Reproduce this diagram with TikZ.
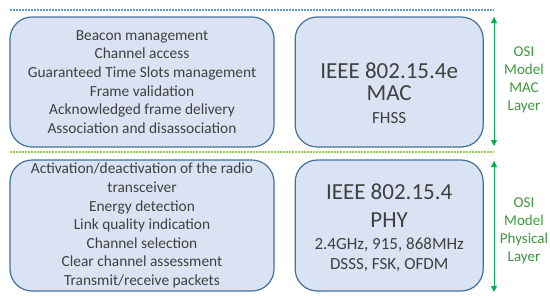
\documentclass[tikz,border=0pt]{standalone}
\usepackage{fontspec}
\setmainfont{Carlito}
\usepackage{xcolor}
\usetikzlibrary{arrows.meta,positioning}

\definecolor{boxfill}{HTML}{DAE3F3}
\definecolor{boxline}{HTML}{41719C}
\definecolor{textgray}{HTML}{404040}
\definecolor{layergreen}{HTML}{00B050}
\definecolor{labelgreen}{HTML}{3C9A3C}
\definecolor{dotblue}{HTML}{5B9BD5}
\definecolor{dotgreen}{HTML}{92D050}

\newcommand{\smalltech}{\fontsize{17}{20}\selectfont}

\begin{document}
\begin{tikzpicture}[
  x=1pt, y=-1pt,
  node distance=20pt,
  layerbox/.style={draw=boxline, fill=boxfill, line width=1.2pt, rounded corners=22pt, text=textgray, align=center, inner sep=0pt},
  funcbox/.style={layerbox, minimum width=264pt, minimum height=130pt, font=\fontsize{15.4}{18.6}\selectfont},
  stdbox/.style={layerbox, minimum width=188pt, minimum height=130pt},
  stdtext/.style={text=textgray, align=center, font=\fontsize{23}{22}\selectfont},
  osilabel/.style={text=labelgreen, align=center, font=\fontsize{15}{18.2}\selectfont},
  layerarrow/.style={{Triangle[length=6pt,width=6pt]}-{Triangle[length=6pt,width=6pt]}, draw=layergreen, fill=layergreen, line width=0.8pt},
  divider/.style={line width=1.5pt, dash pattern=on 1.5pt off 1.5pt}
]
\useasboundingbox (0,0) rectangle (550,298);

% MAC layer
\node[funcbox] (macfunc) at (142,82) {Beacon management\\Channel access\\Guaranteed Time Slots management\\Frame validation\\Acknowledged frame delivery\\Association and disassociation};
\node[stdbox, right=of macfunc] (macbox) {};
\node[stdtext] (mactext) at ([yshift=-11pt]macbox.center) {IEEE 802.15.4e\\MAC\\[1pt]{\smalltech FHSS}};

% PHY layer
\node[funcbox, minimum height=131pt] (phyfunc) at (142,225.5) {Activation/deactivation of the radio\\transceiver\\Energy detection\\Link quality indication\\Channel selection\\Clear channel assessment\\Transmit/receive packets};
\node[stdbox, minimum height=131pt, right=of phyfunc] (phybox) {};
\node[stdtext] (phytext) at ([yshift=-2.5pt]phybox.center) {IEEE 802.15.4\\[6pt]PHY\\{\smalltech 2.4GHz, 915, 868MHz}\\[-2pt]{\smalltech DSSS, FSK, OFDM}};

% dividers
\coordinate (macline0) at (10,10);
\coordinate (macline1) at (494,10);
\coordinate (phyline0) at (10,152);
\coordinate (phyline1) at (494,152);
\draw[divider, dotblue] (macline0) -- (macline1);
\draw[divider, dotgreen] (phyline0) -- (phyline1);

% layer extents
\coordinate (mactop) at (494,17);
\coordinate (macbot) at (494,146);
\coordinate (phytop) at (494,161);
\coordinate (phybot) at (494,292);
\draw[layerarrow] (mactop) -- (macbot);
\draw[layerarrow] (phytop) -- (phybot);
\node[osilabel] (maclabel) at (524,80) {OSI\\Model\\MAC\\Layer};
\node[osilabel] (phylabel) at (524,231) {OSI\\Model\\Physical\\Layer};
\end{tikzpicture}
\end{document}
